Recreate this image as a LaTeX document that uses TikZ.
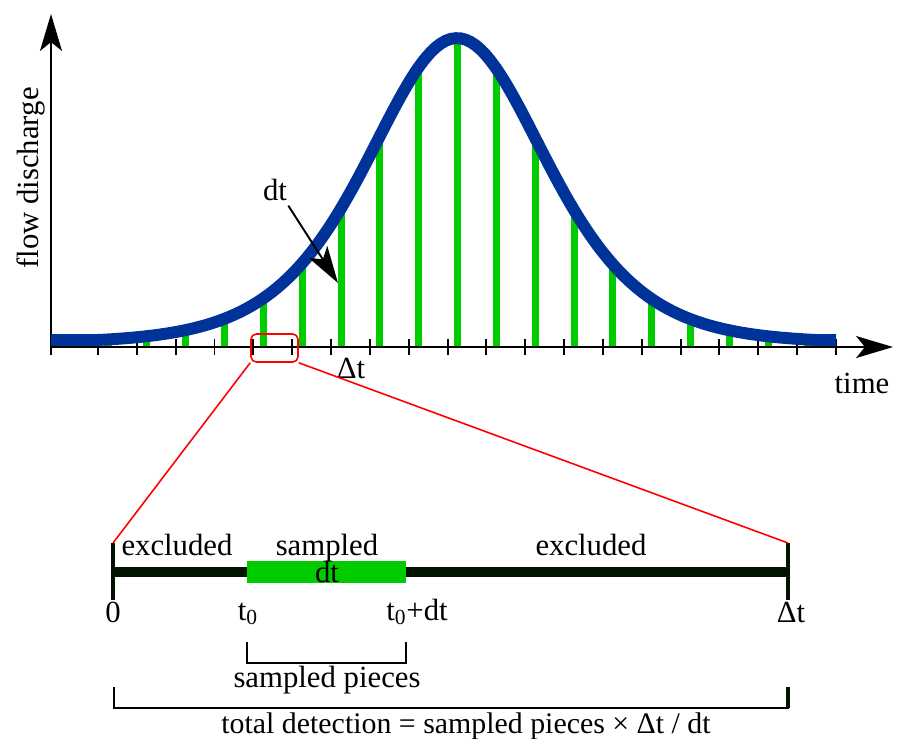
\documentclass[tikz,border=0pt]{standalone}
\usepackage{fontspec}
\setmainfont{Liberation Serif}
\usetikzlibrary{arrows.meta}
\definecolor{flowblue}{RGB}{0,51,153}
\definecolor{samplegreen}{RGB}{0,204,0}
\definecolor{bardark}{RGB}{0,20,0}
\tikzset{
  declare function={flow(\t)=340-302*max(0,(1/(cosh((\t-457)/120))^2-0.01)/0.99);},
  lbl/.style={font=\fontsize{17.5}{21}\selectfont, inner sep=0pt, anchor=base},
  bigtip/.style={-{Stealth[length=21pt, width=12.5pt, inset=5pt]}},
  axis/.style={line width=1.1pt, bigtip},
  axistick/.style={line width=1.1pt},
  flowcurve/.style={line width=6.8pt, flowblue},
  samplebar/.style={line width=4pt, samplegreen},
  zoombox/.style={draw=red, line width=0.9pt, rounded corners=3pt,
    minimum width=0.94cm, minimum height=0.56cm, inner sep=0pt},
  zoomline/.style={red, line width=0.9pt},
  segbar/.style={line width=6.2pt, bardark},
  endmark/.style={line width=2.8pt, bardark},
  brace/.style={line width=0.9pt},
}

\begin{document}
\begin{tikzpicture}[x=0.02cm, y=-0.02cm]
  \useasboundingbox (0,0) rectangle (898,738);

  % sampled bars under the curve
  \foreach \k [evaluate=\k as \bx using 108+38.84*\k] in {0,...,18}
    \draw[samplebar] (\bx,347) -- (\bx,{flow(\bx)});

  % axes
  \coordinate (origin) at (51,347);
  \coordinate (ytip) at (51,14);
  \coordinate (xtip) at (893,347);
  \draw[axis] (origin) -- (ytip);
  \draw[axis] (origin) -- (xtip);
  \draw[axistick] (origin) -- ++(0,8);
  \foreach \k [evaluate=\k as \tx using 98+38.84*\k] in {0,...,19}
    \draw[axistick] (\tx,339) -- (\tx,355);

  \draw[flowcurve] plot[domain=51:836, samples=160] (\x,{flow(\x)});

  \node[lbl, rotate=90] (ylabel) at (38,178) {flow discharge};
  \node[lbl] (timelbl) at (862,393) {time};
  \node[lbl] (steplbl) at (351,378) {Δt};
  \node[lbl] (dtlbl) at (275,200) {dt};
  \coordinate (dttip) at (338,283);
  \draw[line width=1.1pt, bigtip] ([shift={(1,5)}]dtlbl.south east) -- (dttip);

  \node[zoombox] (zoom) at (274.5,348) {};

  % zoomed interval
  \coordinate (start) at (113,572);
  \coordinate (end) at (788,572);
  \coordinate (t0) at (247,572);
  \coordinate (t1) at (406,572);
  \coordinate (starttop) at (113,543);
  \coordinate (endtop) at (788,543);
  \draw[segbar] (start) -- (end);
  \draw[line width=12.5pt, samplegreen] (t0) -- (t1);
  \draw[endmark] (starttop) -- ++(0,57);
  \draw[endmark] (endtop) -- ++(0,57);
  \draw[zoomline] (zoom.south west) -- (starttop);
  \draw[zoomline] (zoom.south east) -- (endtop);

  \node[lbl] (excl1) at (177,555) {excluded};
  \node[lbl] (sampled) at (327,555) {sampled};
  \node[lbl] (dtin) at (327,582) {dt};
  \node[lbl] (excl2) at (591,555) {excluded};
  \node[lbl] (zero) at (113,622) {0};
  \node[lbl] (tstart) at (248,620) {t\textsubscript{0}};
  \node[lbl] (tend) at (417,620) {t\textsubscript{0}+dt};
  \node[lbl] (tdelta) at (791,622) {Δt};

  % brackets
  \coordinate (pieceL) at (247,642);
  \coordinate (pieceR) at (406,642);
  \draw[brace] (pieceL) -- ++(0,21) -| (pieceR);
  \node[lbl] (pieces) at (327,687) {sampled pieces};
  \coordinate (totalL) at (114,687);
  \coordinate (totalR) at (788,687);
  \draw[brace] (totalL) -- ++(0,21) -| (totalR);
  \draw[endmark, line width=2.2pt] (totalR) -- ++(0,21);
  \node[lbl, font=\fontsize{17}{21}\selectfont] (total) at (466,733)
    {total detection = sampled pieces × Δt / dt};
\end{tikzpicture}
\end{document}
